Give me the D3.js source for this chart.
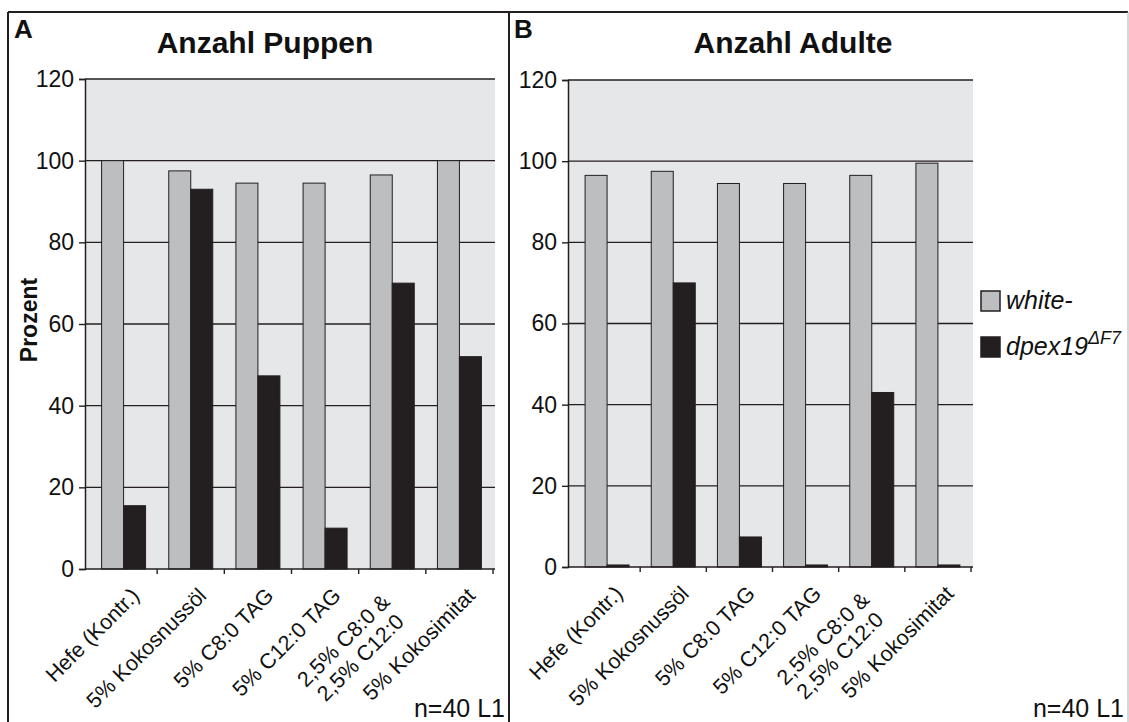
<!DOCTYPE html>
<html>
<head>
<meta charset="utf-8">
<script src="https://cdn.jsdelivr.net/npm/d3@7"></script>
<style>
  body { margin: 0; background: #fff; }
  text { font-family: "Liberation Sans", Arial, sans-serif; fill: #111; }
</style>
</head>
<body>
<div id="chart-area"></div>
<script>
// SVG size
var width = 1129,
    height = 722;

// data
var categories = ["Hefe (Kontr.)", "5% Kokosnussöl", "5% C8:0 TAG", "5% C12:0 TAG", "2,5% C8:0 &\n2,5% C12:0", "5% Kokosimitat"];
var seriesNames = ["white-", "dpex19"];
var puppenWhite = [100, 97.5, 94.5, 94.5, 96.5, 100];
var puppenDpex = [15.5, 93, 47.3, 10, 70, 52];
var adulteWhite = [96.5, 97.5, 94.5, 94.5, 96.5, 99.5];
var adulteDpex = [0.5, 70, 7.4, 0.5, 43, 0.5];
var yTicks = [0, 20, 40, 60, 80, 100, 120];

var colors = { "white-": "#bdbec0", "dpex19": "#231f20" };
var lineColor = "#231f20";
var bgColor = "#e6e7e8";

var svg = d3.select("#chart-area")
  .append("svg")
  .attr("width", width)
  .attr("height", height);

// outer frame
svg.append("line").attr("x1", 8).attr("x2", 1128).attr("y1", 12).attr("y2", 12)
  .attr("stroke", lineColor).attr("stroke-width", 2);
svg.append("line").attr("x1", 8).attr("x2", 8).attr("y1", 12).attr("y2", 722)
  .attr("stroke", lineColor).attr("stroke-width", 2);
svg.append("line").attr("x1", 509).attr("x2", 509).attr("y1", 12).attr("y2", 722)
  .attr("stroke", lineColor).attr("stroke-width", 2);
svg.append("line").attr("x1", 1128).attr("x2", 1128).attr("y1", 12).attr("y2", 722)
  .attr("stroke", "#b0b0b0").attr("stroke-width", 1);

function drawPanel(p) {
  var g = svg.append("g");

  var y = d3.scaleLinear().domain([0, 120]).range([p.bottom, p.top]);
  var x = d3.scaleBand().domain(categories).range([p.bandLeft, p.right]);
  var groupW = 44;
  var xs = d3.scaleBand().domain(seriesNames).range([0, groupW]);

  // plot background
  g.append("rect")
    .attr("x", p.left).attr("y", p.top)
    .attr("width", p.right + 2 - p.left).attr("height", p.bottom - p.top)
    .attr("fill", bgColor);

  // grid lines
  g.selectAll(".grid").data(yTicks.filter(function(t) { return t > 0; }))
    .enter().append("line")
    .attr("x1", p.left).attr("x2", p.right + 2)
    .attr("y1", function(d) { return y(d); })
    .attr("y2", function(d) { return y(d); })
    .attr("stroke", lineColor).attr("stroke-width", 1.4);

  // bars
  var rows = [];
  categories.forEach(function(c, i) {
    rows.push({ cat: c, s: "white-", v: p.white[i] });
    rows.push({ cat: c, s: "dpex19", v: p.dpex[i] });
  });
  g.selectAll(".bar").data(rows).enter().append("rect")
    .attr("x", function(d) { return x(d.cat) + (x.bandwidth() - groupW) / 2 + xs(d.s); })
    .attr("y", function(d) { return y(d.v); })
    .attr("width", xs.bandwidth())
    .attr("height", function(d) { return y(0) - y(d.v); })
    .attr("fill", function(d) { return colors[d.s]; })
    .attr("stroke", lineColor).attr("stroke-width", 1);

  // y axis
  var yAxis = d3.axisLeft(y).tickValues(yTicks).tickSize(6).tickPadding(5);
  var ya = g.append("g").attr("transform", "translate(" + p.left + ",0)").call(yAxis);
  ya.select(".domain").attr("stroke", lineColor).attr("stroke-width", 1.5);
  ya.selectAll(".tick line").attr("stroke", lineColor).attr("stroke-width", 1.4);
  ya.selectAll(".tick text").attr("font-size", 23).attr("fill", "#111")
    .style("font-family", '"Liberation Sans", Arial, sans-serif');

  // x axis line and ticks at category boundaries
  g.append("line").attr("x1", p.left).attr("x2", p.right + 2)
    .attr("y1", y(0)).attr("y2", y(0))
    .attr("stroke", lineColor).attr("stroke-width", 1.5);
  g.selectAll(".xtick").data(categories).enter().append("line")
    .attr("x1", function(d) { return x(d) + x.bandwidth(); })
    .attr("x2", function(d) { return x(d) + x.bandwidth(); })
    .attr("y1", y(0)).attr("y2", y(0) + 5)
    .attr("stroke", lineColor).attr("stroke-width", 1.4);

  // rotated category labels
  var ux = Math.SQRT1_2, uy = -Math.SQRT1_2, vx = Math.SQRT1_2, vy = Math.SQRT1_2;
  categories.forEach(function(c) {
    var lines = c.split("\n");
    var cx = x(c) + x.bandwidth() / 2;
    var ex, ey;
    if (lines.length === 1) { ex = cx + 17; ey = y(0) + 28; }
    else { ex = cx - 1; ey = y(0) + 34; }
    var texts = lines.map(function(l) {
      return g.append("text").attr("text-anchor", "end").attr("font-size", 21.5).text(l);
    });
    var lens = texts.map(function(t) { return t.node().getComputedTextLength(); });
    var lmax = d3.max(lens);
    texts.forEach(function(t, i) {
      var shift = (lmax - lens[i]) / 2;
      var px = ex + i * 24 * vx - shift * ux;
      var py = ey + i * 24 * vy - shift * uy;
      t.attr("transform", "translate(" + px + "," + py + ") rotate(-45)");
    });
  });

  // title and panel letter
  g.append("text").attr("x", p.titleX).attr("y", 53).attr("text-anchor", "middle")
    .attr("font-size", 30).attr("font-weight", "bold").text(p.title);
  g.append("text").attr("x", p.letterX).attr("y", 38)
    .attr("font-size", 26).attr("font-weight", "bold").text(p.letter);

  // n label
  g.append("text").attr("x", p.nX).attr("y", 717).attr("text-anchor", "end")
    .attr("font-size", 25).text("n=40 L1");
}

drawPanel({
  title: "Anzahl Puppen", letter: "A", white: puppenWhite, dpex: puppenDpex,
  left: 85, bandLeft: 90, right: 493, top: 79, bottom: 569,
  titleX: 265, letterX: 14, nX: 505
});

drawPanel({
  title: "Anzahl Adulte", letter: "B", white: adulteWhite, dpex: adulteDpex,
  left: 568, bandLeft: 574, right: 971, top: 80, bottom: 567,
  titleX: 793, letterX: 514, nX: 1124
});

// y label
svg.append("text")
  .attr("transform", "translate(37,320) rotate(-90)")
  .attr("text-anchor", "middle")
  .attr("font-size", 23).attr("font-weight", "bold")
  .text("Prozent");

// legend
var legend = svg.append("g");
var legendY = [291, 337];
seriesNames.forEach(function(s, i) {
  legend.append("rect")
    .attr("x", 981).attr("y", legendY[i]).attr("width", 19).attr("height", 20)
    .attr("fill", colors[s]).attr("stroke", lineColor).attr("stroke-width", 1.5);
});
legend.append("text").attr("x", 1006).attr("y", 309)
  .attr("font-size", 25).attr("font-style", "italic").text("white-");
var t2 = legend.append("text").attr("x", 1006).attr("y", 355)
  .attr("font-size", 25).attr("font-style", "italic");
t2.append("tspan").text("dpex19");
t2.append("tspan").attr("font-size", 18).attr("dy", -11).text("ΔF7");
</script>
</body>
</html>
